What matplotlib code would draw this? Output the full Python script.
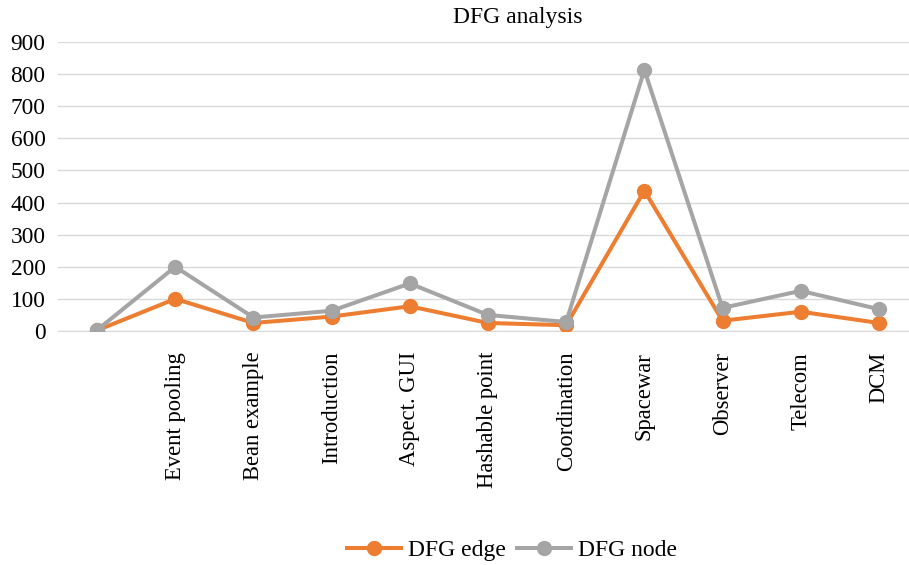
import matplotlib
matplotlib.use("Agg")
import matplotlib.pyplot as plt

categories = ["", "Event pooling", "Bean example", "Introduction", "Aspect. GUI",
              "Hashable point", "Coordination", "Spacewar", "Observer", "Telecom", "DCM"]
dfg_edge = [2, 100, 25, 45, 77, 25, 18, 437, 32, 60, 25]
dfg_node = [3, 200, 42, 63, 148, 50, 28, 813, 72, 125, 68]
yticks = [0, 100, 200, 300, 400, 500, 600, 700, 800, 900]

plt.rcParams['font.family'] = ['Liberation Serif', 'DejaVu Serif']

fig = plt.figure(figsize=(9.09, 5.65), dpi=100)
ax = fig.add_axes([58/909, 1-331/565, 860/909, (331-42)/565])

x = list(range(len(categories)))
ax.plot(x, dfg_edge, color="#ED7D31", lw=2.9, marker="o", ms=10, label="DFG edge", zorder=3)
ax.plot(x, dfg_node, color="#A5A5A5", lw=2.9, marker="o", ms=10, label="DFG node", zorder=3)

ax.set_xlim(-0.5, len(categories)-0.5)
ax.set_ylim(0, 900)
ax.set_yticks(yticks)
ax.set_yticklabels([str(v) for v in yticks], fontsize=16.8)
ax.set_xticks(x)
ax.set_xticklabels(categories, rotation=90, fontsize=16.3, va="top", ha="center")
ax.tick_params(axis="both", length=0)
ax.tick_params(axis="y", pad=9)
ax.tick_params(axis="x", pad=15)
ax.grid(axis="y", color="#D9D9D9", lw=1)
ax.set_axisbelow(True)
for s in ["top", "right", "left"]:
    ax.spines[s].set_visible(False)
ax.spines["bottom"].set_color("#D9D9D9")

fig.text(518/909, 1-18/565, "DFG analysis", ha="center", va="center", fontsize=17)

fig.legend(loc="center", bbox_to_anchor=(512/909, 1-550/565), ncol=2, frameon=False,
           fontsize=17, handlelength=2.3, columnspacing=0.45, handletextpad=0.3)

fig.savefig("out.png", dpi=100)
